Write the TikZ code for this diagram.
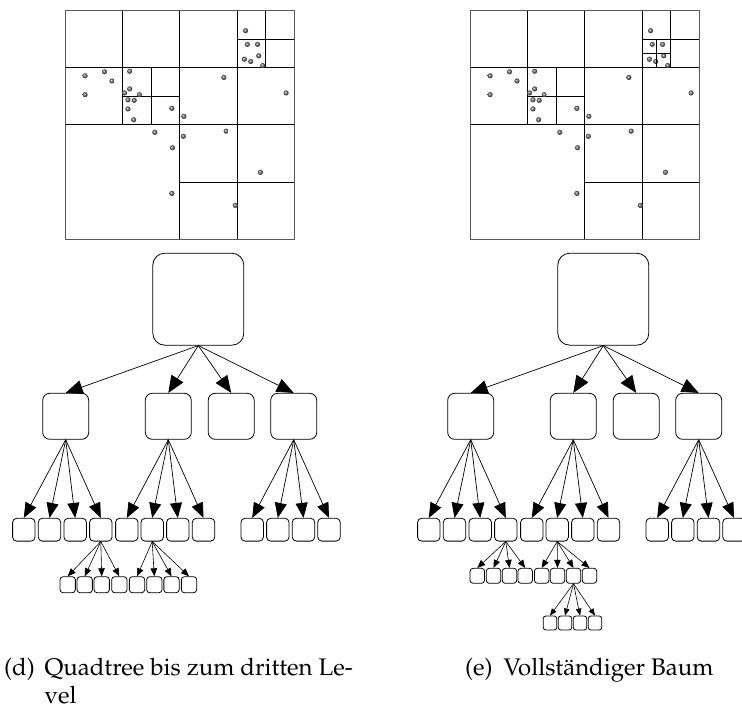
\documentclass[tikz,border=0pt]{standalone}
\usepackage[T1]{fontenc}
\usepackage{mathpazo}
\usetikzlibrary{arrows.meta}

\newcommand{\capfont}{\fontsize{24}{29}\selectfont}

\tikzset{
  box/.style={draw, line width=0.8pt, rounded corners=#1, inner sep=0pt, fill=white},
  rootbox/.style={box=12pt, minimum width=91pt, minimum height=92pt},
  boxone/.style={box=7pt, minimum size=46pt},
  boxtwo/.style={box=4pt, minimum width=22.4pt, minimum height=22.8pt},
  boxthree/.style={box=3pt, minimum width=15.3pt, minimum height=16pt},
  boxfour/.style={box=2.5pt, minimum width=13.4pt, minimum height=14pt},
  gridline/.style={line width=1pt},
  border/.style={line width=1pt, draw=black!65},
  arrone/.style={-{Triangle[length=17pt,width=14pt]}, line width=0.7pt},
  arrtwo/.style={-{Triangle[length=15pt,width=12pt]}, line width=0.7pt},
  arrthree/.style={-{Triangle[length=8pt,width=6.5pt]}, line width=0.6pt},
  arrfour/.style={-{Triangle[length=7pt,width=5.5pt]}, line width=0.6pt},
  caption/.style={anchor=base west, inner sep=0pt, font=\capfont}
}

\begin{document}
\begin{tikzpicture}[x=1pt, y=-1pt]
  \useasboundingbox (0,0) rectangle (742,710);

  %% quadtrees (cell size 1, y downwards)
  \foreach \s/\dx in {L/0, R/405}{
    \begin{scope}[shift={(65.7+\dx,10.7)}, x=57.1pt, y=-57.1pt]
      \draw[border] (0,0) rectangle (4,4);
      % first and second level
      \draw[gridline] (2,0) -- (2,4) (0,2) -- (4,2);
      \draw[gridline] (1,0) -- (1,2) (0,1) -- (2,1);
      \draw[gridline] (3,0) -- (3,4) (2,1) -- (4,1) (2,3) -- (4,3);
      % third level
      \draw[gridline] (1.5,1) -- (1.5,2) (1,1.5) -- (2,1.5);
      \draw[gridline] (3.5,0) -- (3.5,1) (3,0.5) -- (4,0.5);
      % points
      \foreach \u/\v in {3.15/0.35, 3.18/0.59, 3.36/0.59, 3.38/0.79, 3.13/0.85,
          3.24/0.89, 3.45/0.96, 0.34/1.14, 0.68/1.07, 0.81/1.23, 0.34/1.47,
          1.12/1.06, 1.12/1.37, 1.03/1.44, 1.29/1.47, 1.09/1.56, 1.20/1.57,
          1.09/1.72, 1.19/1.91, 1.86/1.71, 2.07/1.85, 2.77/1.17, 3.86/1.44,
          1.56/2.13, 2.06/2.20, 2.81/2.11, 1.87/2.40, 3.41/2.83, 1.86/3.20,
          2.97/3.41}
        \shade[ball color=gray!85!black] (\u,\v) circle (2.6pt);
    \end{scope}
  }
  % fourth level, right only
  \begin{scope}[shift={(470.7,10.7)}, x=57.1pt, y=-57.1pt]
    \draw[gridline] (3.25,0.5) -- (3.25,1) (3,0.75) -- (3.5,0.75);
  \end{scope}

  %% trees: root, first and second level
  \foreach \s/\dx in {L/0, R/405}{
    \begin{scope}[xshift=\dx]
      \node[rootbox] (root\s) at (198.3,299.2) {};
      \foreach \n/\x in {1/65.7, 2/168.3, 3/231.2, 4/293.7}
        \node[boxone] (a\n\s) at (\x,416.3) {};
      \foreach \n in {1,...,4}
        \draw[arrone] (root\s.south) -- (a\n\s.north);
      \foreach \n/\x in {1/23.8, 2/49.5, 3/75.2, 4/100.8, 5/126.8, 6/152.2,
          7/177.8, 8/203.5, 9/252.2, 10/277.8, 11/303.5, 12/329}
        \node[boxtwo] (b\n\s) at (\x,529.7) {};
      \foreach \n/\p in {1/1, 2/1, 3/1, 4/1, 5/2, 6/2, 7/2, 8/2,
          9/4, 10/4, 11/4, 12/4}
        \draw[arrtwo] (a\p\s.south) -- (b\n\s.north);
    \end{scope}
  }

  %% third level, left
  \foreach \n/\x in {1/67.7, 2/84.7, 3/101.7, 4/119.3, 5/137, 6/154.3,
      7/171.5, 8/189}
    \node[boxthree] (c\n L) at (\x,584.7) {};
  %% third level, right
  \foreach \n/\x in {1/477.3, 2/493.5, 3/509.5, 4/525.2, 5/541.7, 6/557.5,
      7/573.5, 8/589.5}
    \node[boxthree, minimum width=14.5pt, minimum height=15pt] (c\n R) at (\x,575.8) {};
  \foreach \s in {L, R}
    \foreach \n/\p in {1/4, 2/4, 3/4, 4/4, 5/6, 6/6, 7/6, 8/6}
      \draw[arrthree] (b\p\s.south) -- (c\n\s.north);

  %% fourth level, right
  \foreach \n/\x in {1/550, 2/565, 3/580, 4/595}
    \node[boxfour] (d\n R) at (\x,623) {};
  \foreach \n in {1,...,4}
    \draw[arrfour] (c7R.south) -- (d\n R.north);

  %% captions
  \node[caption] (labd) at (4,675) {(d)};
  \node[caption] (capd) at (44.3,675) {Quadtree bis zum dritten Le-};
  \node[caption] (capdb) at (44.3,703) {vel};
  \node[caption] (labe) at (465,675) {(e)};
  \node[caption] (cape) at (503.3,675) {Vollst\"andiger Baum};
\end{tikzpicture}
\end{document}
